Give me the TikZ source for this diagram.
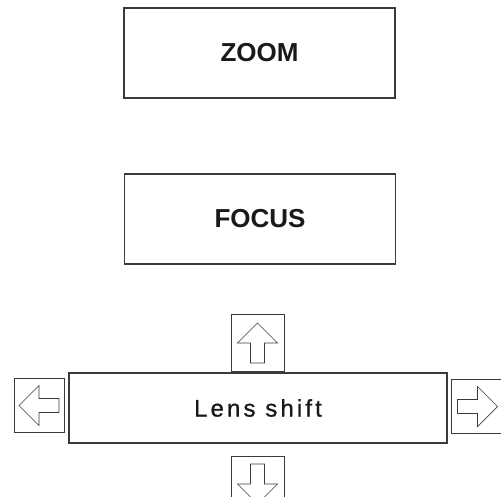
\documentclass[tikz,border=0pt]{standalone}
\usepackage{fontspec}
\setsansfont{Liberation Sans}
\newfontfamily\spacedsans[LetterSpace=13, FakeBold=0.9]{Liberation Sans}
\definecolor{edgegray}{HTML}{3A3A3A}
\tikzset{
  menubox/.style={draw=edgegray, line width=1.3pt, minimum width=271pt, minimum height=90pt,
    inner sep=0pt, font=\sffamily\bfseries\fontsize{26}{30}\selectfont, text=black!90},
  keybox/.style={draw=edgegray, line width=1pt, minimum width=53pt, minimum height=54pt, inner sep=0pt},
  glyph/.style={draw=edgegray, line width=0.7pt, line join=miter}
}

\begin{document}
\begin{tikzpicture}[x=1pt, y=-1pt]
\useasboundingbox (0,0) rectangle (501,497);

\node[menubox] (zoom) at (259.5,53) {ZOOM};
\node[menubox] (focus) at (260,219) {FOCUS};

\node[draw=edgegray, line width=1.3pt, minimum width=378pt, minimum height=70pt, inner sep=0pt,
      font=\spacedsans\fontsize{24}{28}\selectfont, text=black!90] (lens) at (258,408) {Lens shift};

\node[keybox, minimum height=56pt] (up) at (257.5,343) {};
\node[keybox, minimum height=56pt] (down) at (257.5,484) {};
\node[keybox, minimum width=50pt] (left) at (39,405.5) {};
\node[keybox] (right) at (477.5,406.5) {};

% arrow glyphs, drawn pointing up and turned
\foreach \b/\a in {up/0, down/180, left/90, right/-90}
  \draw[glyph, shift={(\b.center)}, rotate=\a]
    (0,-20) -- (20,0) -- (7,0) -- (7,20) -- (-7,20) -- (-7,0) -- (-20,0) -- cycle;

\end{tikzpicture}
\end{document}
